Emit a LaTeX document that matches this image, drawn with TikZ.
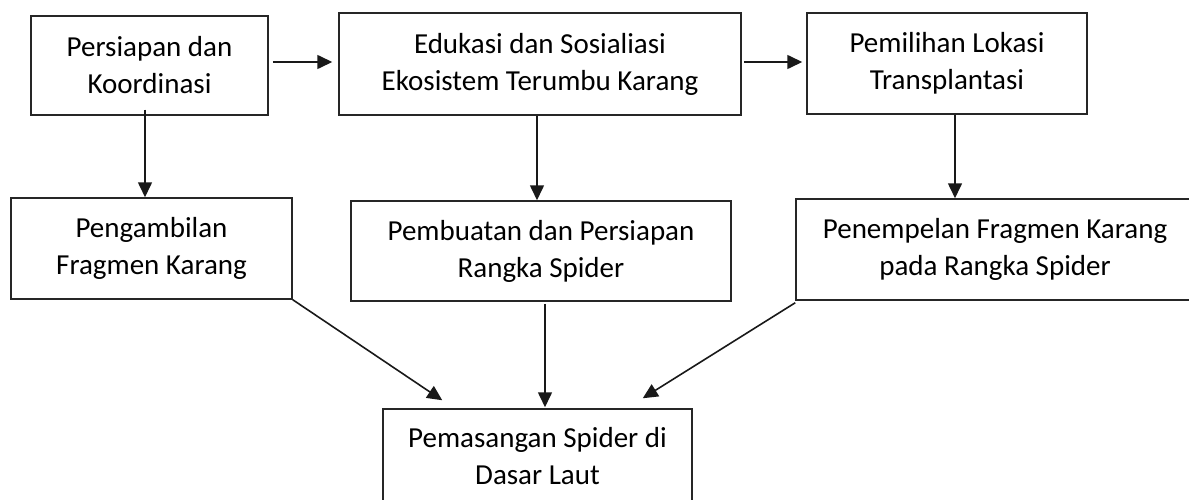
\documentclass[tikz,border=0pt]{standalone}
\usepackage{fontspec}
\setmainfont{Carlito}
\usetikzlibrary{arrows.meta,calc}
\begin{document}
\begin{tikzpicture}[x=1pt,y=-1pt,
  box/.style={draw=black!85,line width=1.5pt,rectangle,align=center,inner sep=0pt,
    font=\fontsize{29}{37}\selectfont},
  arr/.style={draw=black!90,line width=1.6pt,-{Triangle[length=15pt,width=14pt]}}]
\useasboundingbox (0,0) rectangle (1189,500);
\clip (0,0) rectangle (1189,500);
\node[box,minimum width=237pt,minimum height=99pt] (b1) at (149.5,65.5) {Persiapan dan\\Koordinasi};
\node[box,minimum width=402pt,minimum height=102pt] (b2) at (540,64) {Edukasi dan Sosialiasi\\Ekosistem Terumbu Karang};
\node[box,minimum width=280pt,minimum height=101pt] (b3) at (947,63.5) {Pemilihan Lokasi\\Transplantasi};
\node[box,minimum width=281pt,minimum height=101pt] (b4) at (151.5,248.5) {Pengambilan\\Fragmen Karang};
\node[box,minimum width=380pt,minimum height=100pt] (b5) at (541,251) {Pembuatan dan Persiapan\\Rangka Spider};
\node[box,minimum width=398pt,minimum height=101pt] (b6) at (995,249.5) {Penempelan Fragmen Karang\\pada Rangka Spider};
\node[box,minimum width=309pt,minimum height=94pt] (b7) at (537.5,456) {Pemasangan Spider di\\Dasar Laut};
% horizontal arrows
\coordinate (s12) at ([xshift=4pt,yshift=3.5pt]b1.east);
\draw[arr,shorten >=6pt] (s12) -- (s12 -| b2.west);
\coordinate (s23) at ([xshift=2pt,yshift=2pt]b2.east);
\draw[arr,shorten >=4pt] (s23) -- (s23 -| b3.west);
% vertical arrows
\coordinate (s14) at ([xshift=-4.5pt,yshift=6pt]b1.south);
\draw[arr] (s14) -- (s14 |- b4.north);
\coordinate (s25) at ([xshift=-3pt]b2.south);
\draw[arr] (s25) -- (s25 |- b5.north);
\coordinate (s36) at ([xshift=8pt]b3.south);
\draw[arr] (s36) -- (s36 |- b6.north);
% arrows into last box
\coordinate (s57) at ([xshift=4pt,yshift=-2pt]b5.south);
\draw[arr,shorten >=1pt] (s57) -- (s57 |- b7.north);
\draw[arr] (b4.south east) -- ([xshift=60pt,yshift=8pt]b7.north west);
\draw[arr] ([yshift=-2pt]b6.south west) -- ([xshift=-50pt,yshift=10pt]b7.north east);
\end{tikzpicture}
\end{document}
